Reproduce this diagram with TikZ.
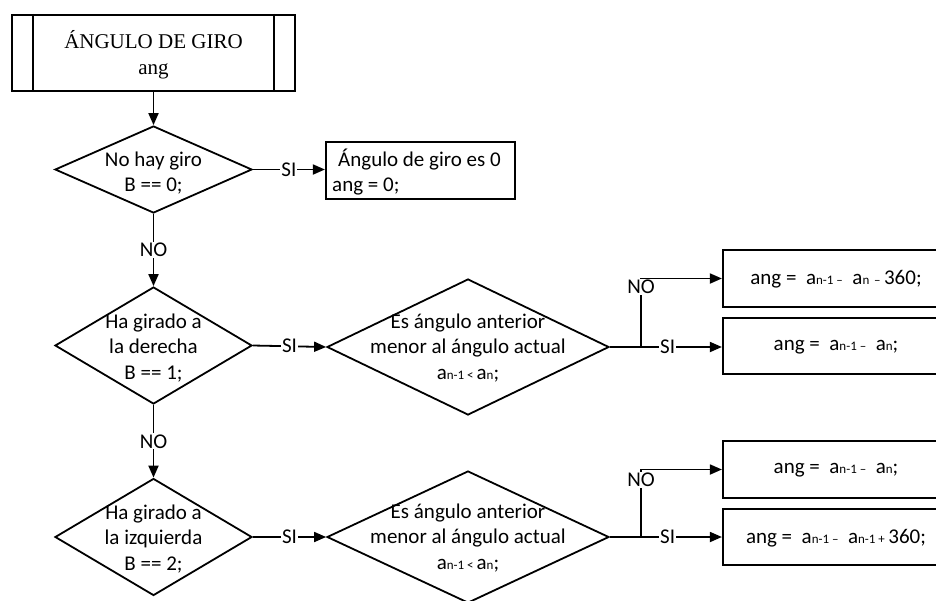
\documentclass[tikz,border=0pt]{standalone}
\usepackage{fontspec}
\setmainfont{Carlito}
\newfontfamily\serifrm{Liberation Serif}
\usetikzlibrary{shapes.geometric,arrows.meta}
\newcommand\sm[1]{{\fontsize{13}{15}\selectfont #1}}
\begin{document}
\begin{tikzpicture}[x=1pt,y=-1pt,
  txt/.style={font=\fontsize{21}{25.6}\selectfont, align=center, inner sep=0pt},
  decis/.style={draw, shape=diamond, line width=1.8pt, inner sep=0pt},
  procbox/.style={draw, rectangle, line width=2.2pt, inner sep=0pt},
  conn/.style={line width=1.8pt},
  arr/.style={conn, -{Triangle[length=12pt,width=10pt]}},
  lbl/.style={font=\fontsize{21}{25.6}\selectfont, fill=white, inner sep=1pt}]
\useasboundingbox (0,0) rectangle (936,600);

% start (predefined process)
\node[procbox, minimum width=283pt, minimum height=76pt] (start) at (153.5,53) {};
\draw[line width=1.8pt] ([xshift=22pt]start.north west) -- ([xshift=22pt]start.south west);
\draw[line width=1.8pt] ([xshift=-22pt]start.north east) -- ([xshift=-22pt]start.south east);
\node[inner sep=0pt, align=center, font=\serifrm\fontsize{21}{26}\selectfont] (startt) at (153.5,55) {ÁNGULO DE GIRO\\ang};

% decision 1
\node[decis, minimum width=197pt, minimum height=87pt] (d1) at (153.5,169.5) {};
\node[txt] (d1t) at (153.5,173) {No hay giro\\B == 0;};
\node[procbox, minimum width=189pt, minimum height=57pt] (b1) at (420.5,170.5) {};
\node[txt, align=left, anchor=west] (b1t) at (332,172) {\hspace{6pt}Ángulo de giro es 0\\ang = 0;};

% decision 2
\node[decis, minimum width=197pt, minimum height=117pt] (d2) at (153.5,345.5) {};
\node[txt] (d2t) at (153.5,348) {Ha girado a\\la derecha\\B == 1;};
\node[decis, minimum width=282pt, minimum height=136pt] (d3) at (468,347) {};
\node[txt] (d3t) at (468,348) {Es ángulo anterior\\menor al ángulo actual\\a\sm{n-1 < }a\sm{n};};
\node[procbox, minimum width=226pt, minimum height=57pt] (bA) at (836,278.5) {};
\node[txt] (bAt) at (836,279) {ang =\ \ a\sm{n-1 –}\ \ a\sm{n} \sm{–}\,360;};
\node[procbox, minimum width=226pt, minimum height=56pt] (bB) at (836,346) {};
\node[txt] (bBt) at (836,347) {ang =\ \ a\sm{n-1 –}\ \ a\sm{n};};

% decision 3
\node[decis, minimum width=197pt, minimum height=117pt] (d4) at (153.5,537) {};
\node[txt] (d4t) at (153.5,539) {Ha girado a\\la izquierda\\B == 2;};
\node[decis, minimum width=282pt, minimum height=132pt] (d5) at (468,537) {};
\node[txt] (d5t) at (468,538) {Es ángulo anterior\\menor al ángulo actual\\a\sm{n-1 < }a\sm{n};};
\node[procbox, minimum width=226pt, minimum height=57pt] (bC) at (836,469.5) {};
\node[txt] (bCt) at (836,470) {ang =\ \ a\sm{n-1 –}\ \ a\sm{n};};
\node[procbox, minimum width=226pt, minimum height=56pt] (bD) at (836,537) {};
\node[txt] (bDt) at (836,538) {ang =\ \ a\sm{n-1 –}\ \ a\sm{n-1 +}\,360;};

\coordinate (j1) at (641,347);
\coordinate (j2) at (641,537);

% connectors
\draw[arr] (start.south) -- (d1.north);
\draw[arr] (d1.east) -- (d1.east -| b1.west) node[lbl, midway] {SI};
\draw[arr] (d1.south) -- (d2.north) node[lbl, midway] {NO};
\draw[arr] (d2.east) -- (d3.west) node[lbl, midway] {SI};
\draw[conn] (d3.east) -- (j1);
\draw[arr] (j1) -- (j1 -| bB.west) node[lbl, pos=0.33] {SI};
\draw[arr] (j1) |- (bA.west);
\node[lbl] (no1) at (641,287) {NO};
\draw[arr] (d2.south) -- (d4.north) node[lbl, midway] {NO};
\draw[arr] (d4.east) -- (d5.west) node[lbl, midway] {SI};
\draw[conn] (d5.east) -- (j2);
\draw[arr] (j2) -- (bD.west) node[lbl, pos=0.33] {SI};
\draw[arr] (j2) |- (bC.west);
\node[lbl] (no2) at (641,480) {NO};
\end{tikzpicture}
\end{document}
